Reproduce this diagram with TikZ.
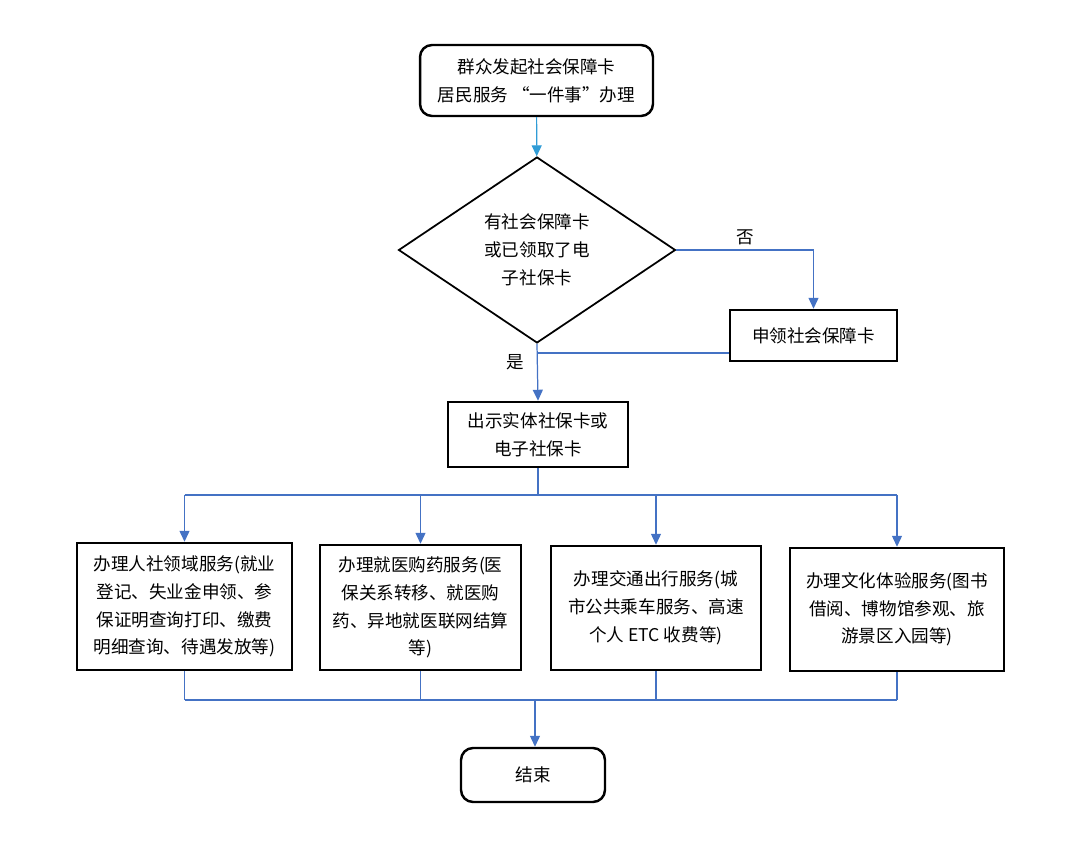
\documentclass[tikz,border=0pt]{standalone}
\usepackage{fontspec}
\setmainfont{Noto Sans CJK SC}
\usetikzlibrary{shapes.geometric,arrows.meta}
\definecolor{lineblue}{RGB}{68,114,196}

\begin{document}
\begin{tikzpicture}
  [x=0.02cm,y=-0.02cm,
   every node/.style={font=\fontsize{10}{15.8}\selectfont,align=center},
   box/.style={draw=black,line width=1.4pt,rectangle},
   rbox/.style={box,rounded corners=0.24cm},
   decision/.style={draw=black,line width=1pt,diamond,inner sep=0pt},
   conn/.style={draw=lineblue,line width=0.7pt},
   arr/.style={conn,-{Triangle[length=0.22cm,width=0.2cm]}}]
  \useasboundingbox (0,0) rectangle (1082,847);

  \node[rbox,minimum width=4.66cm,minimum height=1.42cm] (start) at (536.5,80.5)
    {群众发起社会保障卡\\居民服务 “一件事"办理};
  \node[decision,minimum width=5.54cm,minimum height=3.72cm] (dec) at (537,250)
    {有社会保障卡\\或已领取了电\\子社保卡};
  \node[box,minimum width=3.34cm,minimum height=1.02cm] (apply) at (813.5,335.5)
    {申领社会保障卡};
  \node[box,minimum width=3.6cm,minimum height=1.3cm] (show) at (538,434.5)
    {出示实体社保卡或\\电子社保卡};

  \node[box,minimum width=4.3cm,minimum height=2.54cm] (b1) at (184.5,606.5)
    {办理人社领域服务(就业\\登记、失业金申领、参\\保证明查询打印、缴费\\明细查询、待遇发放等)};
  \node[box,minimum width=4.02cm,minimum height=2.5cm] (b2) at (420.5,607.5)
    {办理就医购药服务(医\\保关系转移、就医购\\药、异地就医联网结算\\等)};
  \node[box,minimum width=4.2cm,minimum height=2.48cm] (b3) at (656,608)
    {办理交通出行服务(城\\市公共乘车服务、高速\\个人 ETC 收费等)};
  \node[box,minimum width=4.28cm,minimum height=2.46cm] (b4) at (897,609.5)
    {办理文化体验服务(图书\\借阅、博物馆参观、旅\\游景区入园等)};

  \node[rbox,minimum width=2.88cm,minimum height=1.08cm] (end) at (533,775) {结束};

  \node (no) at (745,237) {否};
  \node (yes) at (515,362) {是};

  \coordinate (join) at (538,353);
  \coordinate (split) at (538,495);
  \coordinate (merge) at (535,700);

  \draw[arr,draw=lineblue!70!cyan] (start) -- (dec);
  \draw[arr] (dec.east) -| (apply.north);
  \draw[conn] (apply.west |- join) -- (join);
  \draw[arr] (dec.south) -- (show.north);
  \draw[conn] (show.south) -- (split);
  \draw[conn] (b1.north |- split) -- (b4.north |- split);
  \draw[conn] (b1.south |- merge) -- (b4.south |- merge);

  \foreach \b in {b1,b2,b3,b4}
  {
    \draw[arr] (\b.north |- split) -- (\b.north);
    \draw[conn] (\b.south) -- (\b.south |- merge);
  }
  \draw[arr] (merge) -- (merge |- end.north);
\end{tikzpicture}
\end{document}
